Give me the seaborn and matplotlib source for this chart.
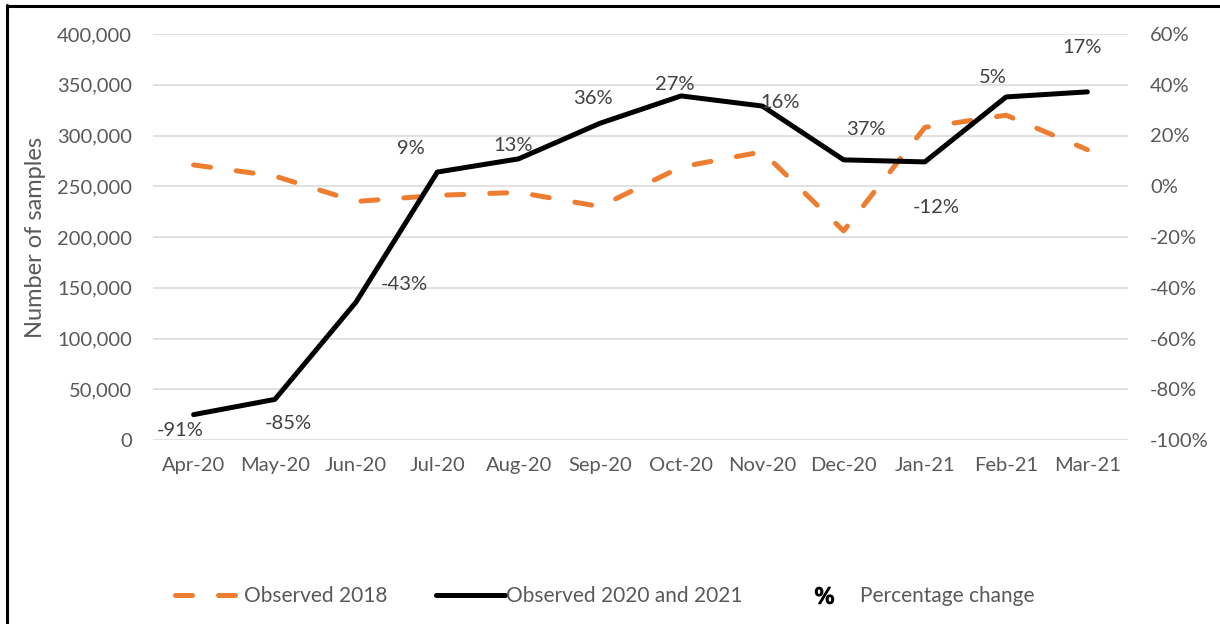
import matplotlib
matplotlib.use("Agg")
import matplotlib.pyplot as plt
from matplotlib.lines import Line2D
from matplotlib.ticker import FuncFormatter, MultipleLocator
import seaborn as sns
import pandas as pd

months = ["Apr-20", "May-20", "Jun-20", "Jul-20", "Aug-20", "Sep-20",
          "Oct-20", "Nov-20", "Dec-20", "Jan-21", "Feb-21", "Mar-21"]
observed_2018 = [271000, 260000, 235000, 241000, 244000, 230000,
                 269000, 284000, 206000, 308000, 320000, 286000]
observed_2020_21 = [25000, 40000, 136000, 264000, 277000, 312000,
                    339000, 329000, 276000, 274000, 338000, 343000]
pct_labels = ["-91%", "-85%", "-43%", "9%", "13%", "36%",
              "27%", "16%", "37%", "-12%", "5%", "17%"]
# label offsets from the black-line points (pixels; x right, y up)
label_offsets = [(-13, -16), (13, -24), (48, 17), (-26, 24), (-6, 13), (-7, 25),
                 (-6, 11), (18, 4), (22, 30), (11, -46), (-13, 19), (-5, 44)]

legend_labels = ["Observed 2018", "Observed 2020 and 2021", "Percentage change"]

ORANGE = "#ED7D31"
GRID = "#D9D9D9"
TXT = "#595959"
LBL = "#404040"

sns.set_theme(style="white")
plt.rcParams["font.family"] = ["Lato", "DejaVu Sans"]

df = pd.DataFrame({"month": months, "o2018": observed_2018, "o2020": observed_2020_21})

W, H = 1220, 624
fig = plt.figure(figsize=(W / 100, H / 100), dpi=100)
ax = fig.add_axes([153 / W, 1 - 440 / H, (1128 - 153) / W, (440 - 34) / H])

sns.lineplot(data=df, x="month", y="o2018", ax=ax, color=ORANGE, linewidth=3.6,
             linestyle=(0, (3.4, 5.2)), dash_capstyle="round", sort=False, zorder=3)
sns.lineplot(data=df, x="month", y="o2020", ax=ax, color="black", linewidth=3.6,
             solid_capstyle="round", solid_joinstyle="round", sort=False, zorder=4)

ax.set_xlim(-0.5, len(months) - 0.5)
ax.set_ylim(0, 400000)
ax.yaxis.set_major_locator(MultipleLocator(50000))
ax.yaxis.set_major_formatter(FuncFormatter(lambda v, p: f"{int(v):,}"))
ax.grid(axis="y", color=GRID, linewidth=1.1)
ax.grid(axis="x", visible=False)
ax.set_axisbelow(True)
for s in ax.spines.values():
    s.set_visible(False)
ax.tick_params(axis="y", length=0, pad=15, labelsize=14.5, labelcolor=TXT)
ax.tick_params(axis="x", length=0, pad=12, labelsize=14.5, labelcolor=TXT)
ax.set_xlabel("")
ax.set_ylabel("Number of samples", fontsize=17, color=TXT)
ax.yaxis.set_label_coords((46 - 153) / (1128 - 153), (440 - 237) / (440 - 34))

ax2 = ax.twinx()
ax2.set_ylim(-1.0, 0.6)
ax2.yaxis.set_major_locator(MultipleLocator(0.2))
ax2.yaxis.set_major_formatter(FuncFormatter(lambda v, p: f"{round(v * 100):d}%"))
for s in ax2.spines.values():
    s.set_visible(False)
ax2.tick_params(axis="y", length=0, pad=16, labelsize=14.5, labelcolor=TXT)
ax2.grid(False)

for m, v, lab, (dx, dy) in zip(months, observed_2020_21, pct_labels, label_offsets):
    ax.annotate(lab, xy=(m, v), xytext=(dx, dy), textcoords="offset pixels",
                ha="center", va="center", fontsize=14.5, color=LBL, zorder=6)

handles = [
    Line2D([], [], color=ORANGE, linewidth=3.6, linestyle=(0, (3.4, 5.2)), dash_capstyle="round"),
    Line2D([], [], color="black", linewidth=3.6, solid_capstyle="round"),
    Line2D([], [], linestyle="none", marker="$\\%$", color="black", markersize=13),
]
fig.legend(handles, legend_labels, loc="center", bbox_to_anchor=(604.5 / W, 1 - 596 / H),
           ncol=3, frameon=False, fontsize=15, labelcolor=TXT, handlelength=3.3,
           handletextpad=0.05, columnspacing=2.3)

# outer frame (left and top edges)
fig.add_artist(Line2D([7 / W, 7 / W], [0, 1 - 5 / H], transform=fig.transFigure, color="black", linewidth=2.2))
fig.add_artist(Line2D([7 / W, 1], [1 - 6 / H, 1 - 6 / H], transform=fig.transFigure, color="black", linewidth=2.2))

fig.savefig("out.png", dpi=100)
